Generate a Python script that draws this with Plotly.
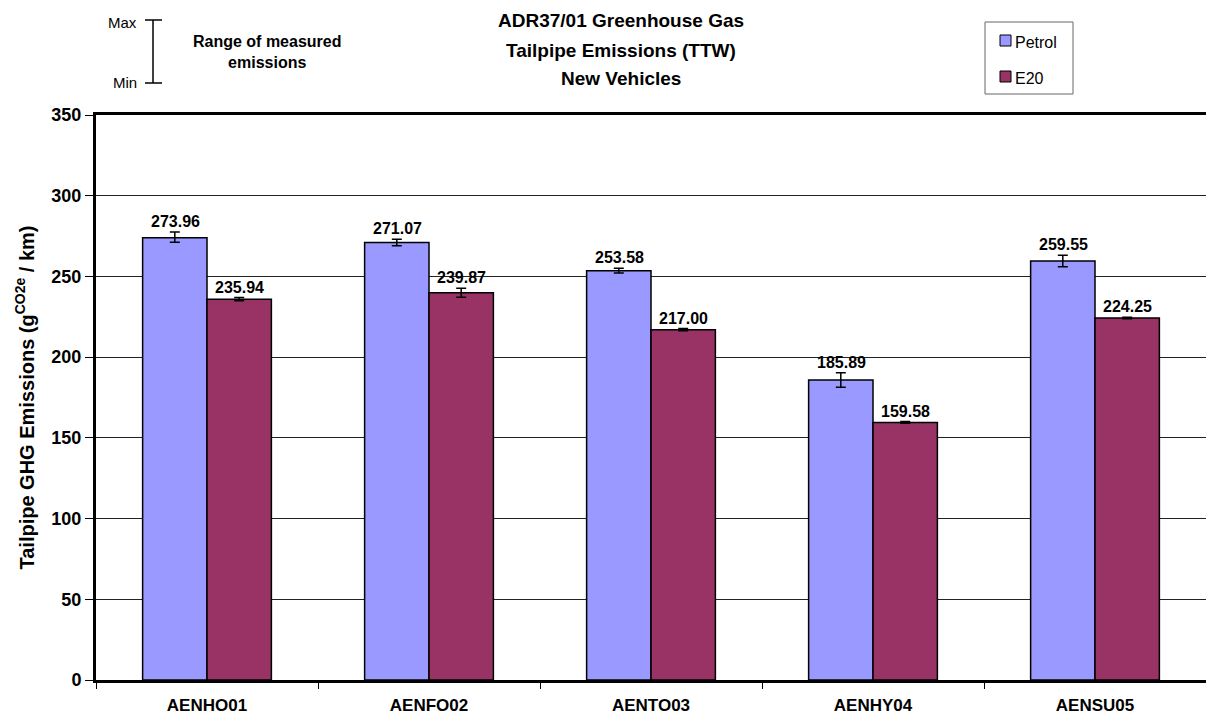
import plotly.graph_objects as go

categories = ["AENHO01", "AENFO02", "AENTO03", "AENHY04", "AENSU05"]
petrol = [273.96, 271.07, 253.58, 185.89, 259.55]
e20 = [235.94, 239.87, 217.00, 159.58, 224.25]
petrol_err_plus = [3.5, 2.0, 1.5, 4.5, 3.5]
petrol_err_minus = [2.8, 2.0, 1.5, 4.5, 3.5]
e20_err_plus = [1.0, 2.8, 0.7, 0.5, 0.5]
e20_err_minus = [1.0, 2.8, 0.7, 0.5, 0.5]
y_ticks = [0, 50, 100, 150, 200, 250, 300, 350]

FONT = "Liberation Sans, Arial, sans-serif"
W, H = 1206, 723
ML, MR, MT, MB = 96, 0, 115, 43
plot_w = W - ML - MR
plot_h = H - MT - MB


def px_x(px):
    return (px - ML) / plot_w


def px_y(py):
    return (H - MB - py) / plot_h


fig = go.Figure()
fig.add_trace(go.Bar(
    name="Petrol", x=categories, y=petrol,
    marker=dict(color="#9999FF", line=dict(color="black", width=1.5)),
    error_y=dict(type="data", array=petrol_err_plus, arrayminus=petrol_err_minus,
                 color="black", thickness=1.5, width=5),
    showlegend=False,
))
fig.add_trace(go.Bar(
    name="E20", x=categories, y=e20,
    marker=dict(color="#993366", line=dict(color="black", width=1.5)),
    error_y=dict(type="data", array=e20_err_plus, arrayminus=e20_err_minus,
                 color="black", thickness=1.5, width=5),
    showlegend=False,
))

annotations = []
for i, c in enumerate(categories):
    annotations.append(dict(x=c, y=petrol[i] + petrol_err_plus[i], xref="x", yref="y",
                            text=f"{petrol[i]:.2f}", showarrow=False, yanchor="bottom",
                            xshift=-32, yshift=0,
                            font=dict(family=FONT, size=16, color="black", weight="bold")))
    annotations.append(dict(x=c, y=e20[i] + e20_err_plus[i], xref="x", yref="y",
                            text=f"{e20[i]:.2f}", showarrow=False, yanchor="bottom",
                            xshift=32, yshift=0,
                            font=dict(family=FONT, size=16, color="black", weight="bold")))

title_lines = ["ADR37/01 Greenhouse Gas", "Tailpipe Emissions (TTW)", "New Vehicles"]
title_y = [21, 50, 78]
for t, yy in zip(title_lines, title_y):
    annotations.append(dict(x=px_x(621), y=px_y(yy), xref="paper", yref="paper", text=t,
                            showarrow=False, xanchor="center", yanchor="middle",
                            font=dict(family=FONT, size=19, color="black", weight="bold")))

# Range-of-measured-emissions key (top-left)
annotations += [
    dict(x=px_x(139), y=px_y(22), xref="paper", yref="paper", text="Max", showarrow=False,
         xanchor="right", yanchor="middle", font=dict(family=FONT, size=15, color="black")),
    dict(x=px_x(139), y=px_y(82), xref="paper", yref="paper", text="Min", showarrow=False,
         xanchor="right", yanchor="middle", font=dict(family=FONT, size=15, color="black")),
    dict(x=px_x(267), y=px_y(52), xref="paper", yref="paper",
         text="Range of measured<br>emissions", showarrow=False,
         xanchor="center", yanchor="middle",
         font=dict(family=FONT, size=16, color="black", weight="bold")),
]
shapes = [
    dict(type="line", xref="paper", yref="paper", x0=px_x(153), x1=px_x(153),
         y0=px_y(20), y1=px_y(83), line=dict(color="black", width=1.5)),
    dict(type="line", xref="paper", yref="paper", x0=px_x(145), x1=px_x(162),
         y0=px_y(20), y1=px_y(20), line=dict(color="black", width=1.5)),
    dict(type="line", xref="paper", yref="paper", x0=px_x(145), x1=px_x(162),
         y0=px_y(83), y1=px_y(83), line=dict(color="black", width=1.5)),
]

# Legend (drawn box with swatches)
legend_names = ["Petrol", "E20"]
legend_colors = ["#9999FF", "#993366"]
legend_rows = [43, 79]
shapes.append(dict(type="rect", xref="paper", yref="paper", x0=px_x(985), x1=px_x(1073),
                   y0=px_y(22), y1=px_y(94), line=dict(color="#666666", width=1),
                   fillcolor="white"))
for name, col, ry in zip(legend_names, legend_colors, legend_rows):
    shapes.append(dict(type="rect", xref="paper", yref="paper", x0=px_x(1000), x1=px_x(1011),
                       y0=px_y(ry - 8), y1=px_y(ry + 3), line=dict(color="black", width=1),
                       fillcolor=col))
    annotations.append(dict(x=px_x(1013), y=px_y(ry), xref="paper", yref="paper", text=name,
                            showarrow=False, xanchor="left", yanchor="middle",
                            font=dict(family=FONT, size=16, color="black")))

fig.update_layout(
    width=W, height=H,
    margin=dict(l=ML, r=MR, t=MT, b=MB, autoexpand=False),
    paper_bgcolor="white", plot_bgcolor="white",
    barmode="group", bargap=0.42, bargroupgap=0,
    font=dict(family=FONT, color="black"),
    showlegend=False,
    xaxis=dict(showline=True, linecolor="black", linewidth=3, mirror=True,
               ticks="outside", tickson="boundaries", ticklen=6, tickcolor="black",
               tickfont=dict(family=FONT, size=17, color="black", weight="bold"),
               ticklabelstandoff=8,
               showgrid=False, automargin=False),
    yaxis=dict(range=[0, 350], tickvals=y_ticks, showline=True, linecolor="black",
               linewidth=3, ticks="outside", ticklen=8, tickcolor="black",
               tickfont=dict(family=FONT, size=18, color="black", weight="bold"),
               showgrid=True, gridcolor="#222222", gridwidth=1, zeroline=False,
               automargin=False,
               title=dict(text="Tailpipe GHG Emissions (g<sup>CO2e</sup> / km)",
                          font=dict(family=FONT, size=20, color="black", weight="bold"),
                          standoff=12)),
    annotations=annotations,
    shapes=shapes,
)

fig.write_html("out.html", config={"displayModeBar": False},
               post_script="document.body.style.margin='0';")
